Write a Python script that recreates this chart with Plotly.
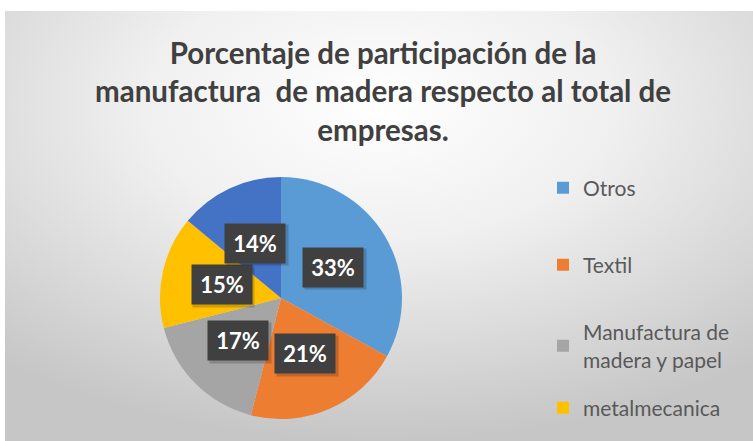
import base64
import math
import plotly.graph_objects as go

# datos
sectores = ["Otros", "Textil", "Manufactura de madera y papel", "metalmecanica", "Otros sectores"]
legend_labels = ["Otros", "Textil", "Manufactura de<br>madera y papel", "metalmecanica"]
porcentajes = [33, 21, 17, 15, 14]
colores = ["#5B9BD5", "#ED7D31", "#A5A5A5", "#FFC000", "#4472C4"]

W, H = 753, 441

# fondo con degradado radial (estilo Excel)
svg = """<svg xmlns='http://www.w3.org/2000/svg' width='748' height='430' preserveAspectRatio='none'>
<defs><radialGradient id='g' cx='50%' cy='22%' r='78%'>
<stop offset='0%' stop-color='#ffffff'/><stop offset='40%' stop-color='#f0f0f0'/>
<stop offset='100%' stop-color='#c6c6c6'/></radialGradient></defs>
<rect width='748' height='430' fill='url(#g)'/></svg>"""
bg = "data:image/svg+xml;base64," + base64.b64encode(svg.encode()).decode()

# geometría del pastel (px)
cx, cy, r = 281, 298, 121
dom_x = [(cx - r) / W, (cx + r) / W]
dom_y = [(H - cy - r) / H, (H - cy + r) / H]

fig = go.Figure()
fig.add_trace(go.Pie(labels=sectores, values=porcentajes, sort=False, direction="clockwise",
                     rotation=0, marker=dict(colors=colores, line=dict(width=0)),
                     textinfo="none", showlegend=False, domain=dict(x=dom_x, y=dom_y)))

# leyenda (solo 4 entradas como en el original), una leyenda por entrada
legend_y = [188, 265, 346, 408]
legends = {}
for i, lab in enumerate(legend_labels):
    key = "legend" if i == 0 else "legend%d" % (i + 1)
    fig.add_trace(go.Scatter(x=[None], y=[None], mode="markers", name=lab, legend=key,
                             marker=dict(symbol="square", size=12, color=colores[i])))
    legends[key] = dict(x=543 / W, y=1 - legend_y[i] / H, xanchor="left", yanchor="middle",
                        font=dict(family="Lato", size=21, color="#595959"),
                        itemwidth=30, bgcolor="rgba(0,0,0,0)")

# etiquetas de porcentaje en cajas oscuras
total = sum(porcentajes)
acum = 0
for v in porcentajes:
    mid = (acum + v / 2) / total * 2 * math.pi
    acum += v
    px_ = cx + 0.5 * r * math.sin(mid)
    py_ = (H - cy) + 0.5 * r * math.cos(mid)
    fig.add_annotation(x=(px_ + 2) / W, y=(py_ - 2) / H, xref="paper", yref="paper",
                       xanchor="center", yanchor="middle", text="", showarrow=False,
                       bgcolor="rgba(0,0,0,0.18)", width=59, height=38)
    fig.add_annotation(x=px_ / W, y=py_ / H, xref="paper", yref="paper",
                       xanchor="center", yanchor="middle",
                       text="<b>%d%%</b>" % round(v / total * 100), showarrow=False,
                       font=dict(family="Lato", size=22, color="white"),
                       bgcolor="#404040", width=58, height=37)

# título
fig.add_annotation(x=383 / W, y=1 - 91 / H, xref="paper", yref="paper",
                   xanchor="center", yanchor="middle", showarrow=False,
                   text="<b>Porcentaje de participación de la<br>manufactura  de madera respecto al total de<br>empresas.</b>",
                   font=dict(family="Lato", size=29.5, color="#404040"))

fig.update_layout(
    width=W, height=H,
    margin=dict(l=0, r=0, t=0, b=0),
    paper_bgcolor="white", plot_bgcolor="rgba(0,0,0,0)",
    xaxis=dict(visible=False), yaxis=dict(visible=False),
    images=[dict(source=bg, xref="paper", yref="paper", x=5 / W, y=(H - 11) / H,
                 sizex=(W - 5) / W, sizey=(H - 11) / H, sizing="stretch",
                 xanchor="left", yanchor="top", layer="below")],
    **legends,
)

fig.write_html("out.html", config={"displayModeBar": False},
               post_script="document.body.style.margin='0';")
